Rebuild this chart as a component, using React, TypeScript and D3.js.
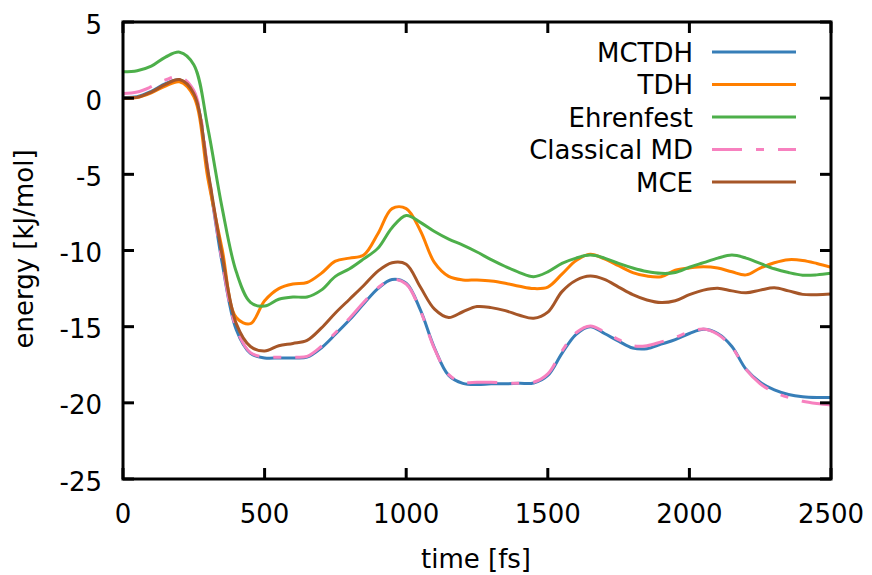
import React from "react";
import * as d3 from "d3";

const times = [0,50,100,150,200,250,300,350,400,450,500,550,600,650,700,750,800,850,900,950,1000,1050,1100,1150,1200,1250,1300,1350,1400,1450,1500,1550,1600,1650,1700,1750,1800,1850,1900,1950,2000,2050,2100,2150,2200,2250,2300,2350,2400,2450,2500];

const mctdh = [0.05,0.1,0.45,0.95,1.2,0.3,-4.9,-10.8,-15.2,-16.75,-17.05,-17.05,-17.05,-17.0,-16.4,-15.5,-14.55,-13.5,-12.5,-11.9,-12.15,-13.9,-16.4,-18.2,-18.72,-18.8,-18.75,-18.75,-18.72,-18.7,-18.2,-16.75,-15.5,-15.0,-15.45,-15.95,-16.4,-16.45,-16.15,-15.85,-15.45,-15.17,-15.45,-16.3,-17.8,-18.65,-19.15,-19.45,-19.6,-19.65,-19.65];

const tdh = [0.0,0.05,0.35,0.8,1.07,0.1,-5.3,-9.9,-14.4,-14.8,-13.3,-12.5,-12.2,-12.1,-11.5,-10.7,-10.5,-10.3,-8.9,-7.25,-7.25,-8.7,-10.8,-11.7,-11.93,-11.94,-12.0,-12.15,-12.35,-12.5,-12.4,-11.55,-10.65,-10.24,-10.55,-11.0,-11.45,-11.68,-11.72,-11.3,-11.15,-11.07,-11.15,-11.4,-11.6,-11.15,-10.8,-10.6,-10.65,-10.85,-11.1];

const ehrenfest = [1.73,1.8,2.1,2.7,3.02,2.2,-2.0,-7.2,-11.4,-13.4,-13.65,-13.2,-13.05,-13.05,-12.6,-11.7,-11.2,-10.55,-9.85,-8.5,-7.7,-8.15,-8.75,-9.25,-9.65,-10.1,-10.6,-11.05,-11.45,-11.72,-11.4,-10.85,-10.5,-10.3,-10.5,-10.85,-11.15,-11.38,-11.5,-11.45,-11.1,-10.8,-10.5,-10.3,-10.5,-10.85,-11.2,-11.45,-11.62,-11.6,-11.5];

const classicalMD = [0.3,0.4,0.75,1.2,1.4,0.5,-4.7,-10.7,-15.1,-16.7,-17.0,-17.0,-17.0,-16.95,-16.3,-15.4,-14.45,-13.4,-12.45,-11.9,-12.2,-13.95,-16.45,-18.15,-18.65,-18.65,-18.65,-18.7,-18.72,-18.65,-18.1,-16.6,-15.4,-14.95,-15.35,-15.85,-16.25,-16.25,-16.0,-15.7,-15.35,-15.15,-15.5,-16.35,-17.8,-18.75,-19.3,-19.65,-19.9,-20.05,-20.15];

const mce = [0.0,0.05,0.4,0.9,1.22,0.3,-4.8,-10.3,-14.8,-16.3,-16.6,-16.25,-16.1,-15.9,-15.1,-14.1,-13.2,-12.3,-11.35,-10.8,-10.9,-12.4,-13.85,-14.4,-14.02,-13.68,-13.75,-13.95,-14.25,-14.45,-14.05,-12.7,-11.95,-11.68,-11.9,-12.4,-12.9,-13.25,-13.42,-13.3,-12.9,-12.6,-12.48,-12.65,-12.78,-12.6,-12.45,-12.65,-12.88,-12.9,-12.86];

const seriesNames = ["MCTDH", "TDH", "Ehrenfest", "Classical MD", "MCE"];
const seriesValues = [mctdh, tdh, ehrenfest, classicalMD, mce];
const seriesColors = ["#377eb8", "#ff7f00", "#4daf4a", "#f781bf", "#a65628"];
const seriesDash = [null, null, null, "30 14 8 14", null];

const xTicks = [0, 500, 1000, 1500, 2000, 2500];
const yTicks = [5, 0, -5, -10, -15, -20, -25];

const W = 872, H = 575;
const L = 123, R = 831, T = 22, B = 479;
const FONT = "'DejaVu Sans', sans-serif";
const FS = 26;

export default function App() {
  const x = d3.scaleLinear().domain([0, 2500]).range([L, R]);
  const y = d3.scaleLinear().domain([-25, 5]).range([B, T]);
  const line = d3
    .line<[number, number]>()
    .x((d) => x(d[0]))
    .y((d) => y(d[1]))
    .curve(d3.curveCatmullRom.alpha(0.5));

  const tickLen = 11;

  return (
    <svg
      width={W}
      height={H}
      style={{ position: "absolute", left: 0, top: 0, background: "#fff" }}
      fontFamily={FONT}
    >
      <rect x={0} y={0} width={W} height={H} fill="#fff" />
      <defs>
        <clipPath id="plotclip">
          <rect x={L} y={T} width={R - L} height={B - T} />
        </clipPath>
      </defs>
      <g clipPath="url(#plotclip)">
        {seriesValues.map((vals, i) => (
          <path
            key={seriesNames[i]}
            d={line(times.map((t, j) => [t, vals[j]] as [number, number])) || ""}
            fill="none"
            stroke={seriesColors[i]}
            strokeWidth={3}
            strokeDasharray={seriesDash[i] || undefined}
            strokeLinejoin="round"
          />
        ))}
      </g>
      {xTicks.map((t) => (
        <g key={"xt" + t}>
          <line x1={x(t)} x2={x(t)} y1={B} y2={B - tickLen} stroke="#000" strokeWidth={3} />
          <line x1={x(t)} x2={x(t)} y1={T} y2={T + tickLen} stroke="#000" strokeWidth={3} />
          <text x={x(t)} y={B + 44} textAnchor="middle" fontSize={FS} fill="#000">
            {t}
          </text>
        </g>
      ))}
      {yTicks.map((v) => (
        <g key={"yt" + v}>
          <line x1={L} x2={L + tickLen} y1={y(v)} y2={y(v)} stroke="#000" strokeWidth={3} />
          <line x1={R} x2={R - tickLen} y1={y(v)} y2={y(v)} stroke="#000" strokeWidth={3} />
          <text x={102} y={y(v) + 11.5} textAnchor="end" fontSize={FS} fill="#000">
            {v}
          </text>
        </g>
      ))}
      <rect x={L} y={T} width={R - L} height={B - T} fill="none" stroke="#000" strokeWidth={3} />
      <text x={476} y={568} textAnchor="middle" fontSize={FS} fill="#000">
        time [fs]
      </text>
      <text
        transform={`translate(33, 249) rotate(-90)`}
        textAnchor="middle"
        fontSize={FS}
        fill="#000"
      >
        energy [kJ/mol]
      </text>
      {seriesNames.map((name, i) => {
        const ly = 52 + i * 32.5;
        return (
          <g key={"lg" + name}>
            <text x={693} y={ly + 9.5} textAnchor="end" fontSize={FS} fill="#000">
              {name}
            </text>
            <line
              x1={712}
              x2={796}
              y1={ly}
              y2={ly}
              stroke={seriesColors[i]}
              strokeWidth={3}
              strokeDasharray={seriesDash[i] || undefined}
            />
          </g>
        );
      })}
    </svg>
  );
}
